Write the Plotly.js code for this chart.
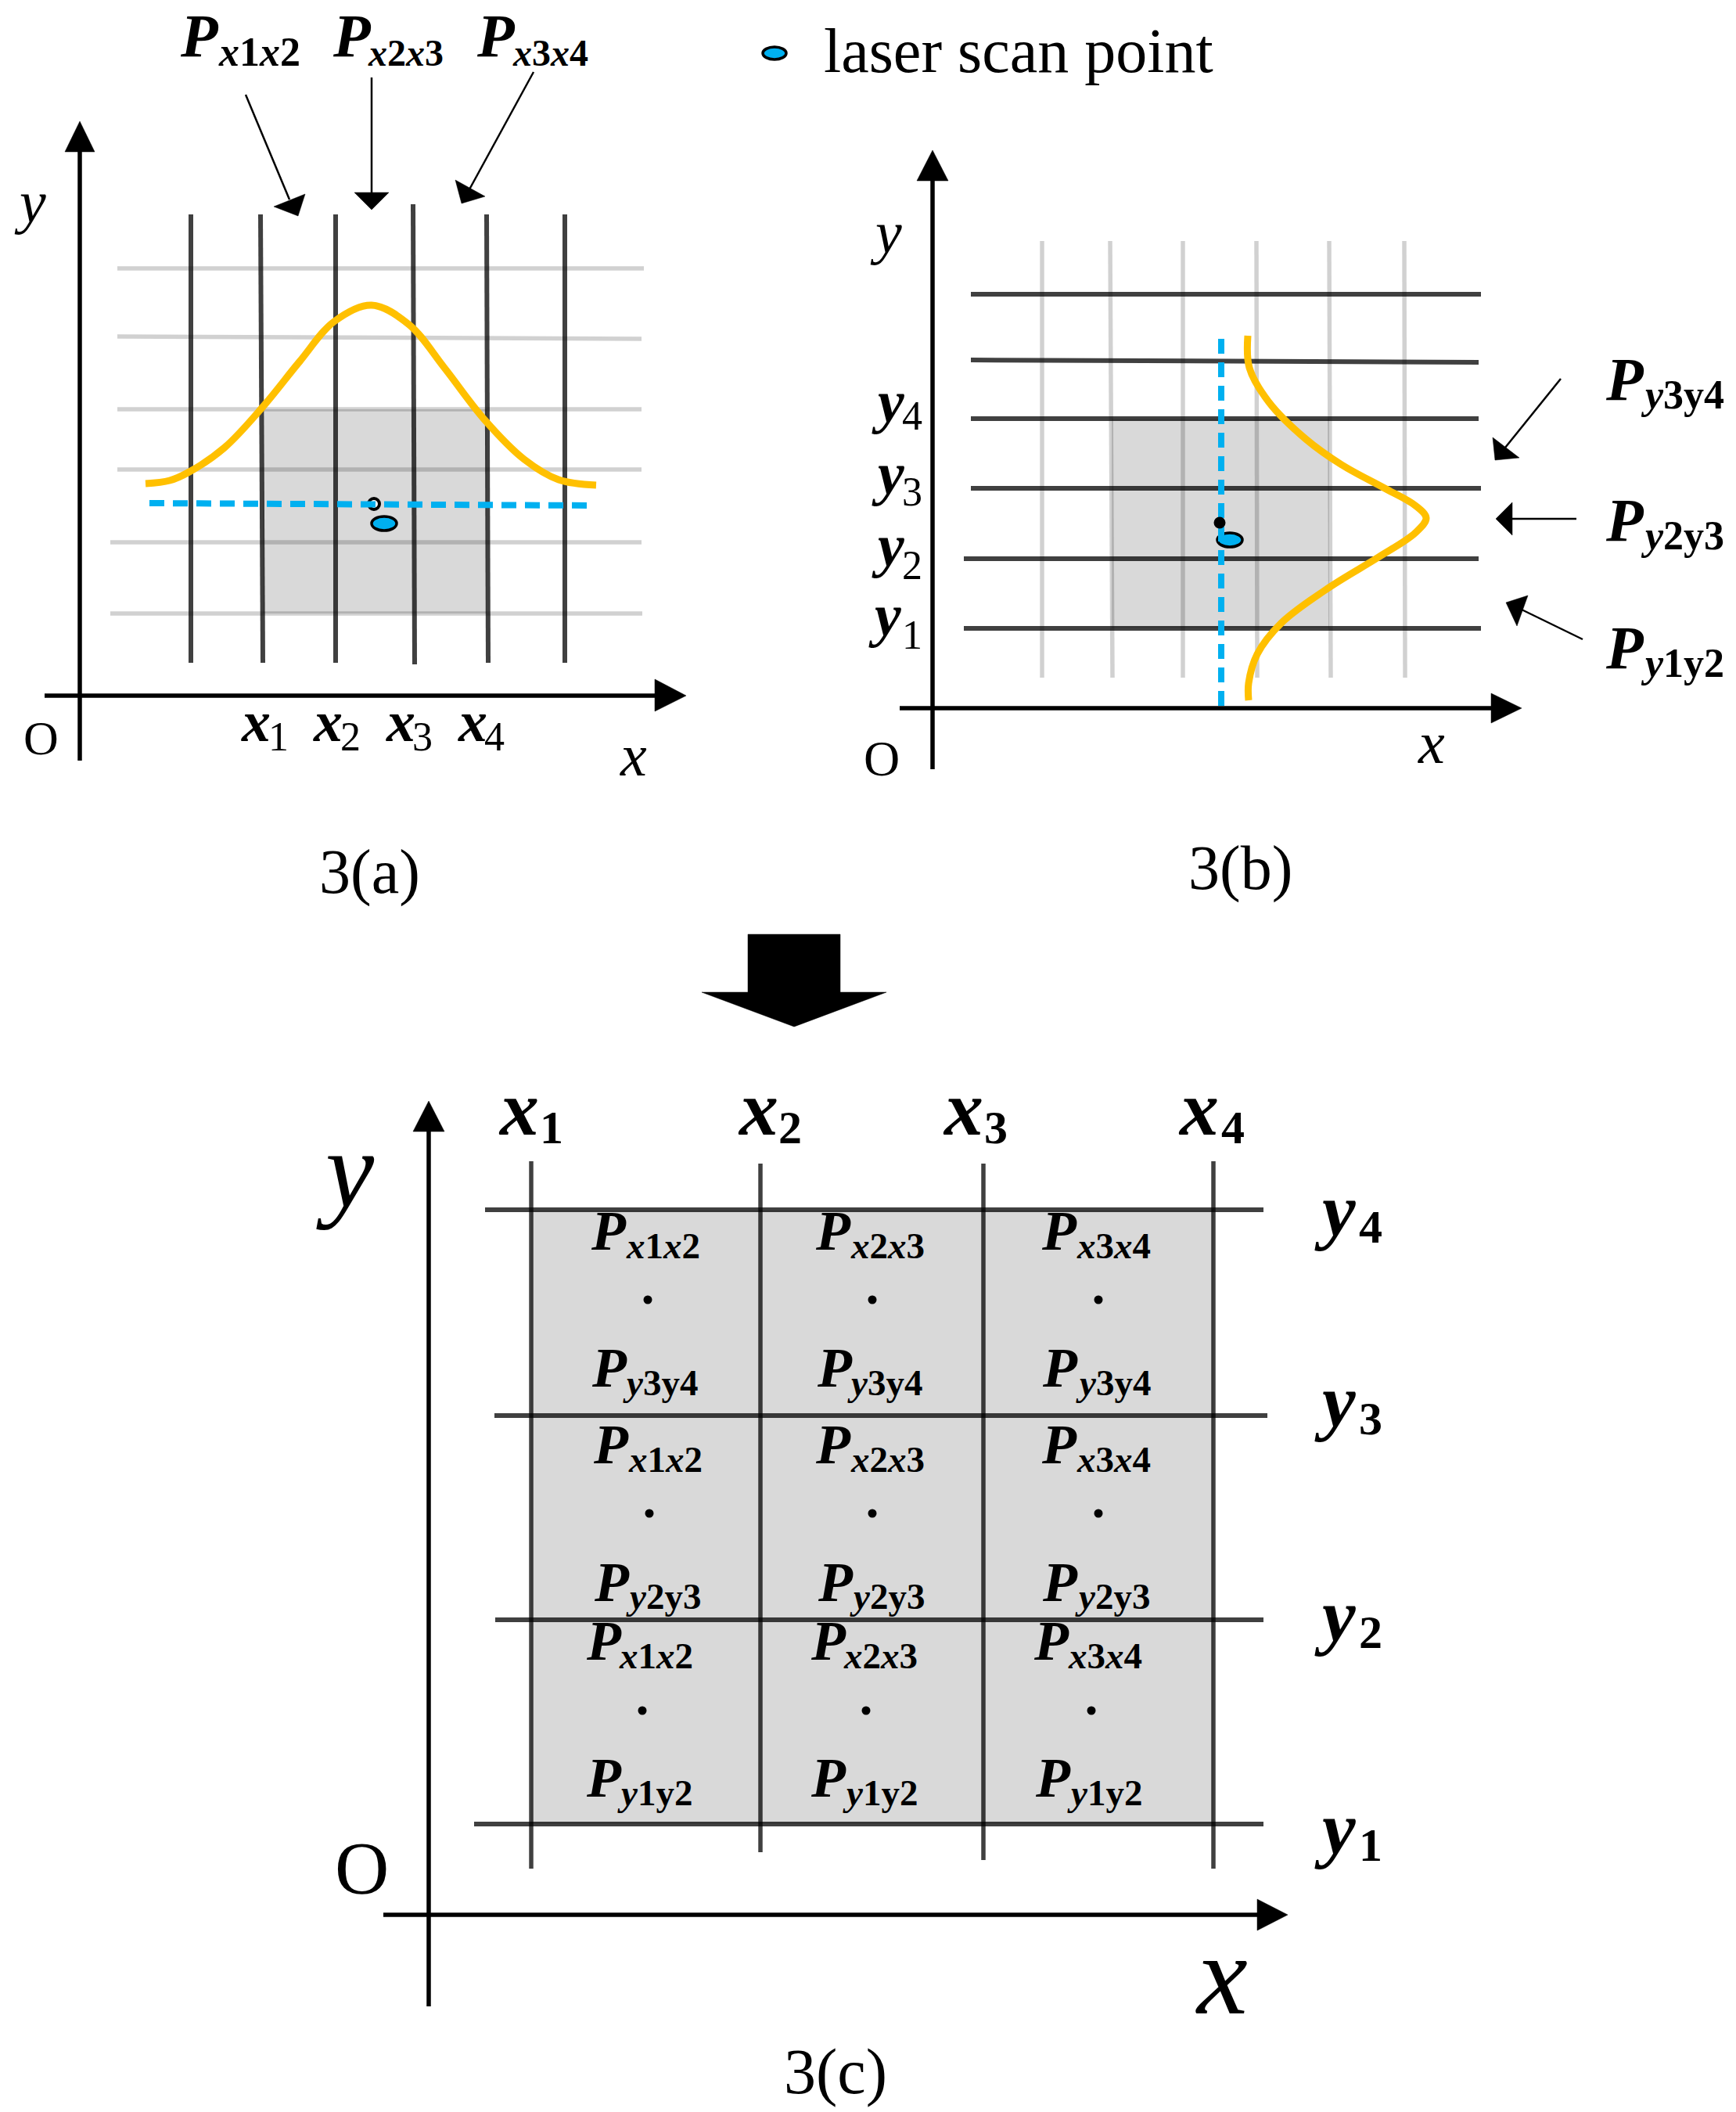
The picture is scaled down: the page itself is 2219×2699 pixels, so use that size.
<!DOCTYPE html>
<html><head><meta charset="utf-8">
<style>html,body{margin:0;padding:0;background:#fff}</style>
<script src="https://cdn.plot.ly/plotly-3.0.1.min.js"></script>
</head><body><div id="chart" style="width:2219px;height:2699px"></div>
<script>
// ---------- Panel 3(a) ----------
const aDarkX0 = [244, 333, 429, 528, 622, 722];
const aDarkX1 = [244, 336, 429, 530, 624, 722];
const aDarkTop = [274, 274, 274, 261, 274, 274];
const aDarkBottom = [847, 847, 847, 849, 847, 847];
const aLightY0 = [343, 430, 523, 600, 693, 784];
const aLightY1 = [343, 433, 523, 600, 693, 784];
const aLightLeft = [150, 150, 150, 150, 141, 141];
const aLightRight = [823, 820, 820, 820, 820, 821];
const aCurveX = [186, 217, 242, 287, 335, 383, 427, 475, 523, 568, 619, 670, 714, 762];
const aCurveY = [618, 614, 603, 572, 521, 462, 411, 390, 415, 470, 536, 587, 613, 620];
const aScanX = [191, 756];
const aScanY = [643, 646];
const aShadeX = [336, 622];
const aShadeY = [523, 784];

// ---------- Panel 3(b) ----------
const bLightX0 = [1332, 1419, 1512, 1606, 1699, 1795];
const bLightX1 = [1332, 1422, 1512, 1607, 1701, 1796];
const bLightTop = [308, 308, 308, 308, 308, 308];
const bLightBottom = [866, 866, 866, 866, 866, 866];
const bDarkY0 = [376, 460, 535, 624, 714, 803];
const bDarkY1 = [376, 463, 535, 624, 714, 803];
const bDarkLeft = [1241, 1241, 1241, 1241, 1232, 1232];
const bDarkRight = [1893, 1890, 1890, 1893, 1890, 1893];
const bCurveX = [1595, 1597, 1622, 1669, 1715, 1770, 1809, 1823, 1809, 1762, 1700, 1638, 1607, 1596, 1596];
const bCurveY = [429, 470, 514, 561, 594, 624, 646, 662, 681, 712, 750, 796, 836, 873, 895];
const bScanX = [1561, 1561];
const bScanY = [433, 906];
const bShadeX = [1421, 1699];
const bShadeY = [535, 803];

// ---------- Panel 3(c) ----------
const cVertX = [679, 972, 1257, 1551];
const cVertTop = [1484, 1487, 1487, 1484];
const cVertBottom = [2388, 2367, 2377, 2388];
const cHorY = [1546, 1809, 2070, 2331];
const cHorLeft = [620, 632, 633, 606];
const cHorRight = [1615, 1620, 1615, 1615];
const cShadeX = [679, 1551];
const cShadeY = [1546, 2331];
const cDotX = [828, 1115, 1404, 830, 1115, 1404, 821, 1107, 1395];
const cDotY = [1661, 1661, 1661, 1934, 1934, 1934, 2186, 2186, 2186];

// ---------- Axes ----------
const axisSegX = [[102,102],[57,840],[1192,1192],[1150,1908],[548,548],[490,1610]];
const axisSegY = [[972,190],[889,889],[983,228],[905,905],[2564,1440],[2447,2447]];

// ---------- Arrow heads (closed polygons) ----------
const headX = [[83,121,102],[837,837,877],[1172,1212,1192],[1906,1906,1945],[528,568,548],[1607,1607,1646],
  [897,956,956,1074,1074,1133,1015],
  [350,390,381],[453,497,475],[582,620,590],[1908,1942,1911],[1933,1933,1912],[1953,1925,1939]];
const headY = [[194,194,155],[868,909,889],[231,231,192],[886,924,905],[1446,1446,1407],[2427,2467,2447],
  [1268,1268,1194,1194,1268,1268,1312],
  [264,248,276],[246,246,268],[230,251,260],[559,585,588],[642,684,663],[761,770,800]];
// Thin arrow shafts
const shaftX = [[314,370],[475,475],[682,600],[1995,1924],[2015,1933],[2023,1945]];
const shaftY = [[121,255],[99,250],[92,242],[484,572],[663,663],[817,779]];

// ---------- Scan point ellipses ----------
const scanCx = [491, 1572, 990];
const scanCy = [669, 690, 68];
const scanRx = [16, 16, 15];
const scanRy = [9, 9, 8];
const footDotX = [478, 1559];
const footDotY = [644, 668];

// ---------- Texts ----------
const subX12 = '<b><i>x</i>1<i>x</i>2</b>', subX23 = '<b><i>x</i>2<i>x</i>3</b>', subX34 = '<b><i>x</i>3<i>x</i>4</b>';
const subY12 = '<b><i>y</i>1y2</b>', subY23 = '<b><i>y</i>2y3</b>', subY34 = '<b><i>y</i>3y4</b>';

const topPText = [subX12, subX23, subX34, subY34, subY23, subY12];
const topPLeft = [230, 425, 609, 2052, 2052, 2052];
const topPBase = [72, 72, 72, 511, 691, 854];
const topSubLeft = [279, 470, 655, 2097, 2097, 2097];
const topSubBase = [84, 84, 84, 522, 702, 865];
const topSubSize = [52, 48, 48, 52, 52, 52];

const cellPText = [subX12, subX23, subX34, subY34, subY34, subY34, subX12, subX23, subX34, subY23, subY23, subY23, subX12, subX23, subX34, subY12, subY12, subY12];
const cellPLeft = [755, 1042, 1331, 756, 1044, 1332, 758, 1042, 1331, 759, 1045, 1332, 749, 1036, 1321, 749, 1036, 1323];
const cellPBase = [1597, 1597, 1597, 1772, 1772, 1772, 1870, 1870, 1870, 2046, 2046, 2046, 2121, 2121, 2121, 2296, 2296, 2296];
const cellSubLeft = [800, 1087, 1376, 796, 1083, 1375, 803, 1087, 1376, 800, 1086, 1374, 791, 1078, 1365, 789, 1077, 1364];
const cellSubBase = [1608, 1608, 1608, 1783, 1783, 1783, 1881, 1881, 1881, 2056, 2056, 2056, 2132, 2132, 2132, 2307, 2307, 2307];

const aTickText = ['x','x','x','x'], aTickDigit = ['1','2','3','4'];
const aTickLeft = [308, 400, 493, 585], aTickDigitLeft = [343, 435, 527, 619];
const aTickBase = [947, 947, 947, 947], aTickDigitBase = [959, 959, 959, 959];

const bTickText = ['y','y','y','y'], bTickDigit = ['4','3','2','1'];
const bTickLeft = [1114, 1114, 1114, 1110], bTickDigitLeft = [1153, 1153, 1153, 1153];
const bTickBase = [539, 631, 723, 812], bTickDigitBase = [549, 646, 740, 829];

const cXTickLeft = [637, 943, 1205, 1506], cXTickDigitLeft = [690, 995, 1258, 1561];
const cXTickDigit = ['1','2','3','4'];
const cXTickBase = 1450, cXTickDigitBase = 1461;
const cYTickDigit = ['4','3','2','1'];
const cYTickBase = [1579, 1823, 2097, 2369], cYTickDigitBase = [1588, 1833, 2106, 2378];
const cYTickLeft = 1680, cYTickDigitLeft = 1737;

const plainText = ['<i>y</i>','<i>x</i>','O','3(a)','laser scan point','<i>y</i>','<i>x</i>','O','3(b)','<i>y</i>','<i>x</i>','O','3(c)'];
const plainLeft = [18, 792, 30, 408, 1053, 1112, 1812, 1104, 1519, 404, 1528, 428, 1002];
const plainBase = [284, 991, 964, 1141, 92, 323, 975, 991, 1136, 1542, 2573, 2420, 2675];
const plainSize = [76, 76, 62, 80, 80, 76, 76, 64, 80, 140, 146, 96, 82];

// ---------- Build ----------
const DARK = 'rgba(0,0,0,0.75)', LIGHT = 'rgba(0,0,0,0.18)', ORANGE = '#FFC000', BLUE = '#00B0F0', GRAY = '#D9D9D9';
const traces = [];
function line(x, y, color, width, extra) {
  traces.push({type:'scatter', mode:'lines', x, y, hoverinfo:'skip', line:Object.assign({color, width}, extra||{})});
}
function poly(x, y, color) {
  traces.push({type:'scatter', mode:'lines', x:x.concat(x[0]), y:y.concat(y[0]), fill:'toself', fillcolor:color, hoverinfo:'skip', line:{color, width:0.5}});
}
aLightY0.forEach((v,i)=>line([aLightLeft[i],aLightRight[i]],[v,aLightY1[i]],LIGHT,5.5));
aDarkX0.forEach((v,i)=>line([v,aDarkX1[i]],[aDarkTop[i],aDarkBottom[i]],DARK,6));
bLightX0.forEach((v,i)=>line([v,bLightX1[i]],[bLightTop[i],bLightBottom[i]],LIGHT,5.5));
bDarkY0.forEach((v,i)=>line([bDarkLeft[i],bDarkRight[i]],[v,bDarkY1[i]],DARK,6));
cVertX.forEach((v,i)=>line([v,v],[cVertTop[i],cVertBottom[i]],DARK,5.5));
cHorY.forEach((v,i)=>line([cHorLeft[i],cHorRight[i]],[v,v],DARK,6));
line(aCurveX,aCurveY,ORANGE,9,{shape:'spline',smoothing:1});
line(bCurveX,bCurveY,ORANGE,9,{shape:'spline',smoothing:1});
axisSegX.forEach((v,i)=>line(v,axisSegY[i],'#000',5.5));
shaftX.forEach((v,i)=>line(v,shaftY[i],'#000',2.5));
headX.forEach((v,i)=>poly(v,headY[i],'#000'));
traces.push({type:'scatter',mode:'markers',x:footDotX.slice(0,1),y:footDotY.slice(0,1),hoverinfo:'skip',marker:{size:14,color:'#fff',line:{color:'#000',width:4}}});
line(aScanX,aScanY,BLUE,8,{dash:'19px,11px'});
line(bScanX,bScanY,BLUE,8,{dash:'19px,11px'});
traces.push({type:'scatter',mode:'markers',x:footDotX.slice(1),y:footDotY.slice(1),hoverinfo:'skip',marker:{size:15,color:'#000'}});
traces.push({type:'scatter',mode:'markers',x:cDotX,y:cDotY,hoverinfo:'skip',marker:{size:11,color:'#000'}});

function shade(x,y){return {type:'rect',xref:'x',yref:'y',layer:'below',x0:x[0],x1:x[1],y0:y[0],y1:y[1],fillcolor:GRAY,line:{width:0}};}
const shapes = [shade(aShadeX,aShadeY),shade(bShadeX,bShadeY),shade(cShadeX,cShadeY)].concat(
  scanCx.map((cx,i)=>({type:'circle',xref:'x',yref:'y',layer:'below',x0:cx-scanRx[i],x1:cx+scanRx[i],y0:scanCy[i]-scanRy[i],y1:scanCy[i]+scanRy[i],fillcolor:BLUE,line:{color:'#000',width:3.5}})));

const annotations = [];
function txt(text,left,base,size){
  annotations.push({xref:'x',yref:'y',x:left,y:base-0.3375*size,text,showarrow:false,xanchor:'left',yanchor:'middle',borderpad:0,borderwidth:0,
    font:{family:'"Liberation Serif"',size,color:'#000'}});
}
topPText.forEach((s,i)=>{txt('<b><i>P</i></b>',topPLeft[i],topPBase[i],78);txt(s,topSubLeft[i],topSubBase[i],topSubSize[i]);});
cellPText.forEach((s,i)=>{txt('<b><i>P</i></b>',cellPLeft[i],cellPBase[i],72);txt(s,cellSubLeft[i],cellSubBase[i],47);});
aTickText.forEach((s,i)=>{txt('<b><i>'+s+'</i></b>',aTickLeft[i],aTickBase[i],74);txt(aTickDigit[i],aTickDigitLeft[i],aTickDigitBase[i],52);});
bTickText.forEach((s,i)=>{txt('<b><i>'+s+'</i></b>',bTickLeft[i],bTickBase[i],76);txt(bTickDigit[i],bTickDigitLeft[i],bTickDigitBase[i],52);});
cXTickDigit.forEach((d,i)=>{txt('<b><i>x</i></b>',cXTickLeft[i],cXTickBase,100);txt('<b>'+d+'</b>',cXTickDigitLeft[i],cXTickDigitBase,60);});
cYTickDigit.forEach((d,i)=>{txt('<b><i>y</i></b>',cYTickLeft,cYTickBase[i],96);txt('<b>'+d+'</b>',cYTickDigitLeft,cYTickDigitBase[i],60);});
plainText.forEach((s,i)=>txt(s,plainLeft[i],plainBase[i],plainSize[i]));

Plotly.newPlot('chart',traces,{
  width:2219,height:2699,margin:{l:0,r:0,t:0,b:0,pad:0},showlegend:false,
  paper_bgcolor:'#fff',plot_bgcolor:'#fff',
  xaxis:{range:[0,2219],visible:false,fixedrange:true},
  yaxis:{range:[2699,0],visible:false,fixedrange:true},
  shapes,annotations
},{staticPlot:true,displayModeBar:false});
</script></body></html>
